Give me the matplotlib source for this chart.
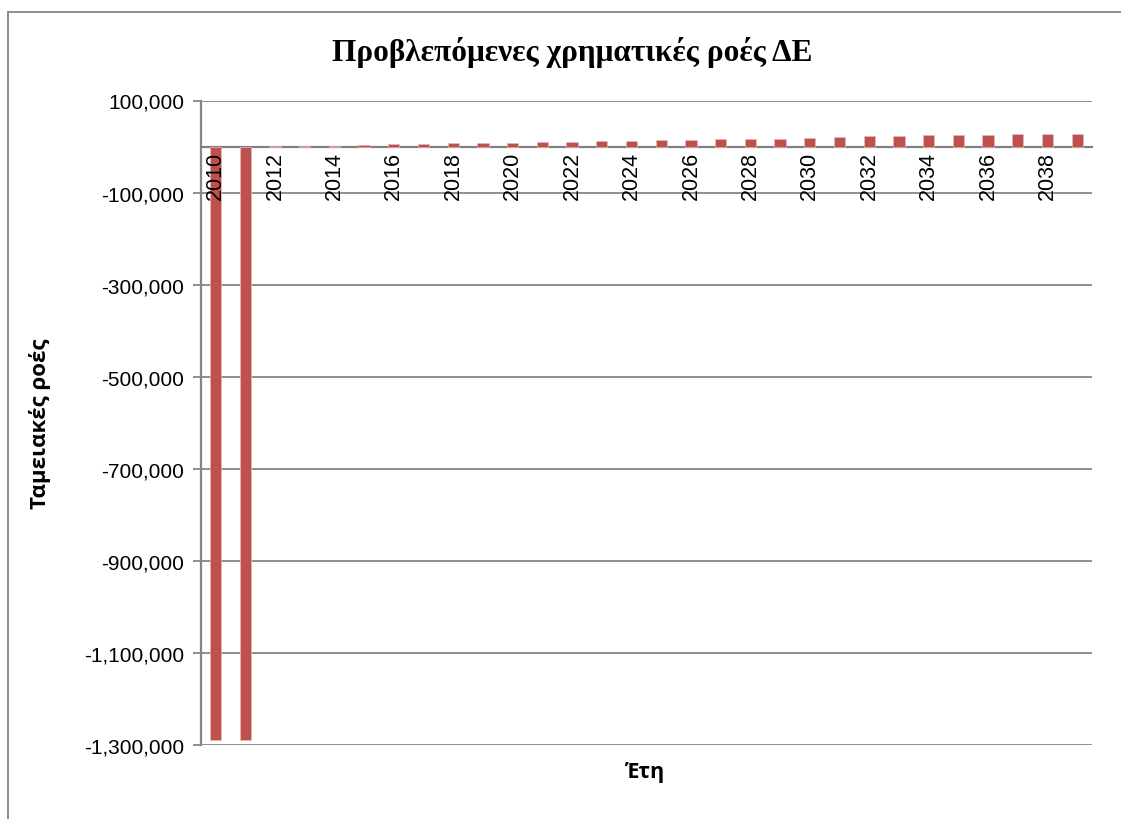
import matplotlib.pyplot as plt
from matplotlib.lines import Line2D
import numpy as np

''' Data '''
years = list(range(2010, 2040))
cash_flows = [-1290000, -1290000, 300, 2000, 2200, 4300, 5800, 5800, 7200, 8000,
              8000, 9400, 10800, 12300, 12300, 13700, 15200, 15900, 17400, 17400,
              18800, 20300, 22400, 23100, 24600, 24600, 26000, 26800, 28200, 28200]
yticks = list(range(100000, -1300001, -200000))

title = 'Προβλεπόμενες χρηματικές ροές ΔΕ'
ylabel = 'Ταμειακές ροές'
xlabel = 'Έτη'

W, H = 1121, 820
fig = plt.figure(figsize=(W / 100, H / 100), dpi=100)
ax = fig.add_axes([200.7 / W, 1 - 746 / H, (1092 - 200.7) / W, (746 - 101.5) / H])
ax.set_axisbelow(True)

x = np.arange(len(years))
ax.bar(x, cash_flows, width=0.38, color='#C0504D', edgecolor='#E6B9B8', linewidth=0.5, zorder=3)

ax.set_xlim(-0.5, len(years) - 0.5)
ax.set_ylim(-1300000, 100000)

# grid lines
ax.set_yticks(yticks)
ax.set_yticklabels(['{:,}'.format(v) for v in yticks], fontfamily='Liberation Sans', fontsize=15)
ax.yaxis.grid(True, color='#878787', linewidth=1.3)
ax.tick_params(axis='y', length=6, width=1.3, color='#878787', pad=6)

# category axis crosses at zero
ax.spines['bottom'].set_position(('data', 0))
ax.spines['bottom'].set_color('#808080')
ax.spines['bottom'].set_linewidth(1.6)
ax.spines['left'].set_color('#878787')
ax.spines['left'].set_linewidth(1.6)
ax.spines['top'].set_visible(False)
ax.spines['right'].set_visible(False)

ax.set_xticks(x[::2])
ax.set_xticklabels([str(y) for y in years[::2]], rotation=90, fontfamily='Liberation Sans', fontsize=15.5)
ax.tick_params(axis='x', length=0, pad=3)
ax.xaxis.set_zorder(4)   # year labels drawn over the bars

fig.text(572 / W, 1 - 53 / H, title, ha='center', va='center', fontfamily='Liberation Serif',
         fontweight='bold', fontsize=22.5)
fig.text(40 / W, 1 - 424 / H, ylabel, ha='center', va='center', rotation=90,
         fontfamily='Open Sans', fontweight='bold', fontsize=16)
fig.text(645 / W, 1 - 773 / H, xlabel, ha='center', va='center',
         fontfamily='Open Sans', fontweight='bold', fontsize=15.5)

# chart frame
fig.add_artist(Line2D([8 / W, 1.0], [1 - 13 / H, 1 - 13 / H], color='#878787', linewidth=1.3))
fig.add_artist(Line2D([8 / W, 8 / W], [1 - 13 / H, 0.0], color='#878787', linewidth=1.3))

fig.savefig('out.png', dpi=100)
